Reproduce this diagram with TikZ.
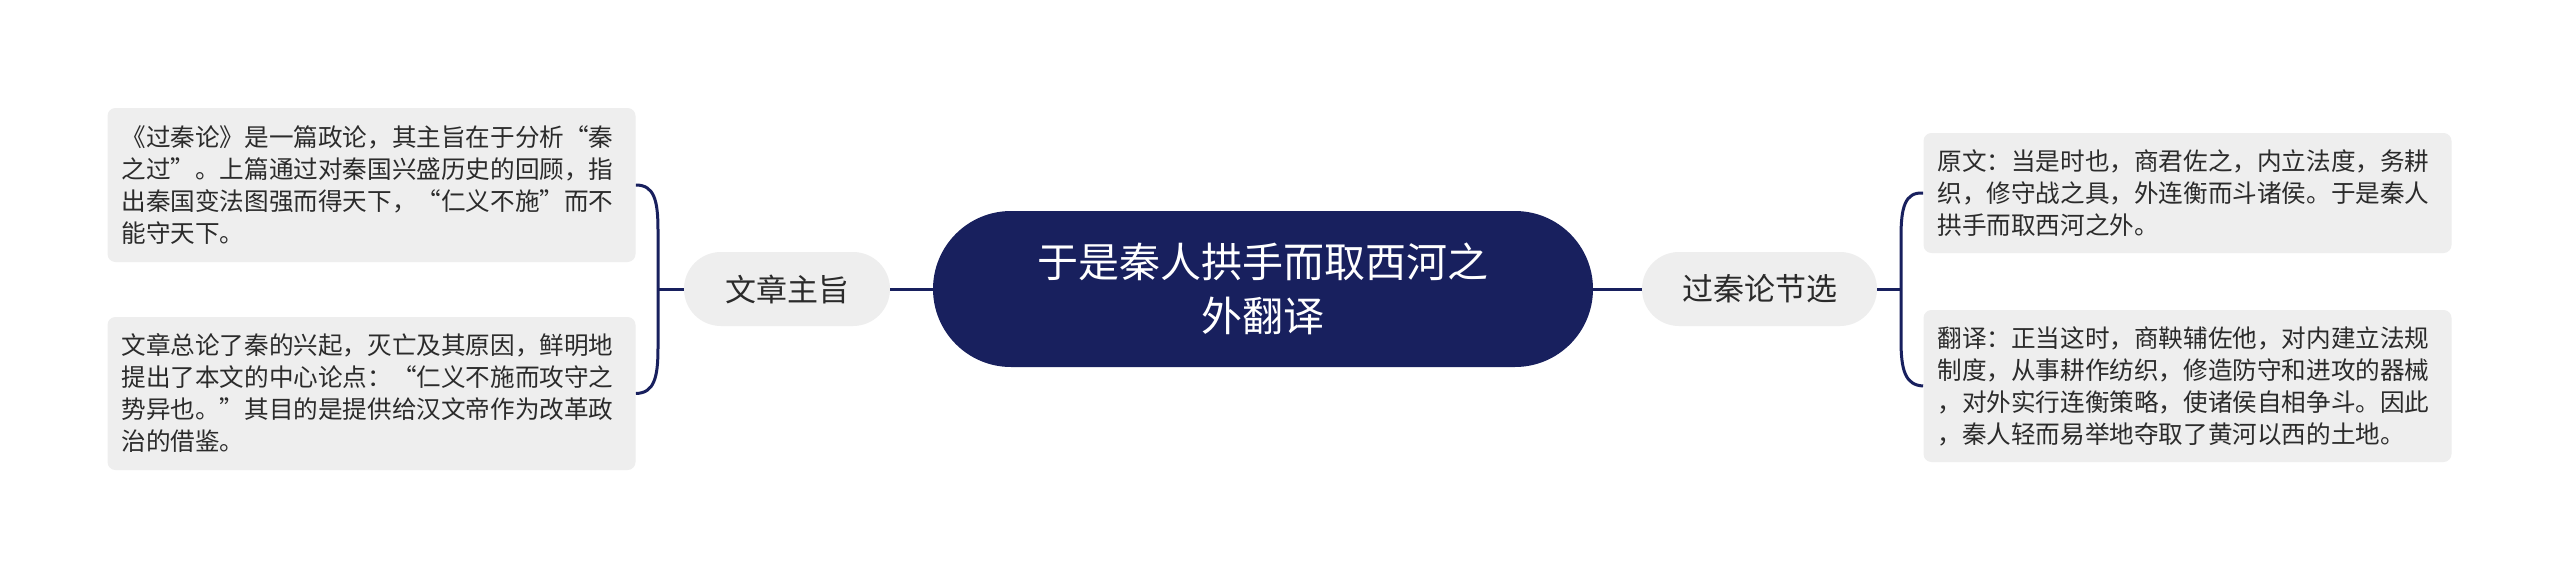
\documentclass[tikz,border=0pt]{standalone}
\usepackage{fontspec}
\setmainfont{Noto Sans CJK SC}
\definecolor{navy}{HTML}{18205E}
\definecolor{leafgray}{HTML}{EEEEEE}
\definecolor{txt}{HTML}{2B2B2B}
\tikzset{
  centerbox/.style={fill=navy, draw=none, rounded corners=39pt, minimum width=330pt, minimum height=78pt,
    text=white, align=center, inner sep=0pt, font=\fontsize{20.5}{27}\selectfont},
  branchbox/.style={fill=leafgray, draw=none, rounded corners=18.5pt, minimum height=37pt,
    text=txt, inner sep=0pt, font=\fontsize{15.5}{20}\selectfont},
  leafbox/.style={fill=leafgray, draw=none, rounded corners=4pt, text width=250pt, inner xsep=7pt, inner ysep=0pt,
    text=txt, align=left, font=\fontsize{12.3}{16}\selectfont},
  link/.style={draw=navy, line width=1.5pt},
}
\begin{document}
\begin{tikzpicture}[x=0.5pt, y=-0.5pt]
\useasboundingbox[fill=white] (0,0) rectangle (2560,578);
% center
\node[centerbox] (c) at (1263,289) {于是秦人拱手而取西河之\\外翻译};
% branches
\node[branchbox, minimum width=103pt] (bl) at (787,289) {文章主旨};
\node[branchbox, minimum width=117.5pt] (br) at (1759.5,289) {过秦论节选};
% leaves
\node[leafbox, minimum height=77pt] (l1) at (371.5,185) {《过秦论》是一篇政论，其主旨在于分析“秦\\之过”。上篇通过对秦国兴盛历史的回顾，指\\出秦国变法图强而得天下，“仁义不施”而不\\能守天下。};
\node[leafbox, minimum height=76.5pt] (l2) at (371.5,393.5) {文章总论了秦的兴起，灭亡及其原因，鲜明地\\提出了本文的中心论点：“仁义不施而攻守之\\势异也。”其目的是提供给汉文帝作为改革政\\治的借鉴。};
\node[leafbox, minimum height=60pt] (r1) at (2187.5,193) {原文：当是时也，商君佐之，内立法度，务耕\\织，修守战之具，外连衡而斗诸侯。于是秦人\\拱手而取西河之外。};
\node[leafbox, minimum height=76pt] (r2) at (2187.5,386) {翻译：正当这时，商鞅辅佐他，对内建立法规\\制度，从事耕作纺织，修造防守和进攻的器械\\，对外实行连衡策略，使诸侯自相争斗。因此\\，秦人轻而易举地夺取了黄河以西的土地。};
% connectors center-branch
\draw[link] (c.west) -- (bl.east);
\draw[link] (c.east) -- (br.west);
% left bracket
\coordinate (lj) at (658,289);
\draw[link] (bl.west) -- (lj);
\draw[link] (l1.east) .. controls (654,185) and (658,200) .. (658,230) -- (658,348) .. controls (658,378) and (654,393) .. (l2.east);
% right bracket
\coordinate (rj) at (1901,289);
\draw[link] (br.east) -- (rj);
\draw[link] (r1.west) .. controls (1905,192) and (1901,207) .. (1901,237) -- (1901,340) .. controls (1901,370) and (1905,385) .. (r2.west);
\end{tikzpicture}
\end{document}
